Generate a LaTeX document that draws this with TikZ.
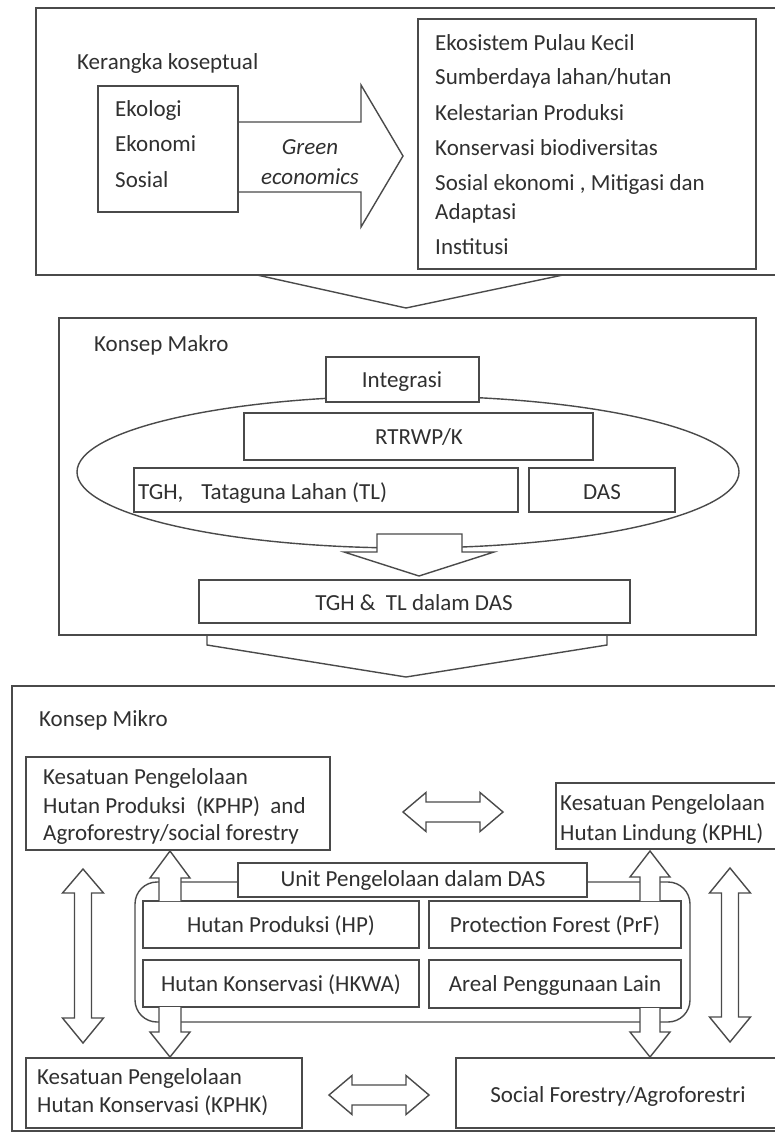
\documentclass[tikz,border=0pt]{standalone}
\usepackage{fontspec}
\setmainfont{Carlito}
\usetikzlibrary{shapes.geometric}
\definecolor{lnc}{HTML}{4A4A4A}
\definecolor{txc}{HTML}{303030}
\newcommand\fsz{\fontsize{23}{27}\selectfont}
\newcommand\mybox[6][]{\node[bx,minimum width={(#5-#3)*1pt},minimum height={(#6-#4)*1pt},#1] (#2) at ({(#3+#5)/2},{(#4+#6)/2}) {};}
\begin{document}
\begin{tikzpicture}[x=1pt,y=-1pt,
 bx/.style={draw=lnc,line width=1.4pt,fill=white,inner sep=0pt,outer sep=0pt},
 lnsty/.style={draw=lnc,line width=1.4pt,line join=miter},
 blk/.style={draw=lnc,line width=1.4pt,fill=white,line join=miter},
 tl/.style={font=\fsz,text=txc,inner sep=0pt,anchor=base west},
 tc/.style={font=\fsz,text=txc,inner sep=0pt,anchor=base}]
\useasboundingbox (0,0) rectangle (775,1137);
\clip (0,0) rectangle (775,1137);
\fill[white] (0,0) rectangle (775,1137);
% ---------------- top section
\mybox{outer1}{36}{8}{778}{275}
\node[tl] (kk) at (77,70) {Kerangka koseptual};
\draw[blk] (238,122) -- (361,122) -- (361,85) -- (403,156) -- (361,227) -- (361,192) -- (238,192);
\mybox{eko}{98}{86}{238}{212}
\node[tl] (t1) at (115,117) {Ekologi};
\node[tl] (t2) at (115,151) {Ekonomi};
\node[tl] (t3) at (115,187) {Sosial};
\node[tc,font=\fsz\itshape] (g1) at (310,154) {Green};
\node[tc,font=\fsz\itshape] (g2) at (310,184) {economics};
\mybox{rbox}{418}{19}{756}{269}
\node[tl] (r1) at (435,51) {Ekosistem Pulau Kecil};
\node[tl] (r2) at (435,85) {Sumberdaya lahan/hutan};
\node[tl] (r3) at (435,121) {Kelestarian Produksi};
\node[tl] (r4) at (435,155) {Konservasi biodiversitas};
\node[tl] (r5) at (435,190) {Sosial ekonomi , Mitigasi dan};
\node[tl] (r6) at (435,219) {Adaptasi};
\node[tl] (r7) at (435,254) {Institusi};
\draw[lnsty] (257,275) -- (406,308) -- (563,275);
% ---------------- middle section
\mybox{mid}{59}{318}{756}{635}
\node[tl] (km) at (94,351) {Konsep Makro};
\node[draw=lnc,line width=1.4pt,ellipse,minimum width=662pt,minimum height=152pt,inner sep=0pt] (ell) at (408,472) {};
\mybox{integ}{326}{357}{479}{402}
\node[tc] (integt) at (402,387) {Integrasi};
\mybox{rtr}{244}{413}{593}{460}
\node[tc] (rtrt) at (419,444) {RTRWP/K};
\mybox{tgh}{134}{468}{518}{512}
\node[tl] (tght) at (138,499) {TGH,\hspace{18pt}Tataguna Lahan (TL)};
\mybox{das}{529}{468}{675}{512}
\node[tc] (dast) at (602,499) {DAS};
\draw[blk] (377,534) -- (462,534) -- (462,552) -- (494,552) -- (419,576) -- (344,552) -- (377,552) -- cycle;
\mybox{tghtl}{199}{580}{630}{623}
\node[tc] (tghtlt) at (414,610) {TGH \& \ TL dalam DAS};
\draw[lnsty] (207,635) -- (207,645) -- (406,677) -- (607,645) -- (607,635);
% ---------------- bottom section
\mybox{outer3}{12}{686}{778}{1131}
\node[tl] (kmi) at (39,726) {Konsep Mikro};
\mybox{kphp}{26}{757}{330}{850}
\node[tl] (p1) at (43,784) {Kesatuan Pengelolaan};
\node[tl] (p2) at (43,813) {Hutan Produksi \ (KPHP) \ and};
\node[tl] (p3) at (43,840) {Agroforestry/social forestry};
\draw[blk] (403,812) -- (426,792.5) -- (426,802) -- (480,802) -- (480,792.5) -- (503,812) -- (480,831.5) -- (480,822) -- (426,822) -- (426,831.5) -- cycle;
\mybox{kphl}{556}{783}{778}{849}
\node[tl] (l1) at (560,810) {Kesatuan Pengelolaan};
\node[tl] (l2) at (560,840) {Hutan Lindung (KPHL)};
\mybox[rounded corners=22pt]{encl}{135}{882}{690}{1022}
\mybox{unit}{238}{863}{587}{897}
\node[tc] (unitt) at (413,886) {Unit Pengelolaan dalam DAS};
\mybox{hp}{143}{901}{419}{948}
\node[tc] (hpt) at (281,932) {Hutan Produksi (HP)};
\mybox{prf}{429}{901}{681}{948}
\node[tc] (prft) at (555,932) {Protection Forest (PrF)};
\mybox{hk}{143}{960}{419}{1007}
\node[tc] (hkt) at (281,991) {Hutan Konservasi (HKWA)};
\mybox{apl}{429}{960}{681}{1008}
\node[tc] (aplt) at (555,991) {Areal Penggunaan Lain};
% single block arrows
\draw[blk] (159,901) -- (159,878) -- (150,878) -- (170,851) -- (190,878) -- (181,878) -- (181,901);
\draw[blk] (640,901) -- (640,877) -- (630,877) -- (650,851) -- (670,877) -- (660,877) -- (660,901);
\draw[blk] (159,1007) -- (159,1032) -- (150,1032) -- (170,1057) -- (190,1032) -- (181,1032) -- (181,1007);
\draw[blk] (640,1008) -- (640,1032) -- (630,1032) -- (650,1057) -- (670,1032) -- (660,1032) -- (660,1008);
% vertical double arrows
\draw[blk] (83,869) -- (103.5,893) -- (91.5,893) -- (91.5,1018) -- (103.5,1018) -- (83,1043) -- (62.5,1018) -- (74.5,1018) -- (74.5,893) -- (62.5,893) -- cycle;
\draw[blk] (730,868) -- (750.5,893) -- (738.5,893) -- (738.5,1017) -- (750.5,1017) -- (730,1042) -- (709.5,1017) -- (721.5,1017) -- (721.5,893) -- (709.5,893) -- cycle;
\mybox{kphk}{26}{1058}{302}{1128}
\node[tl] (k1) at (37,1084) {Kesatuan Pengelolaan};
\node[tl] (k2) at (37,1112) {Hutan Konservasi (KPHK)};
\draw[blk] (329,1095) -- (352,1075.5) -- (352,1085) -- (406,1085) -- (406,1075.5) -- (429,1095) -- (406,1114.5) -- (406,1105) -- (352,1105) -- (352,1114.5) -- cycle;
\mybox{sf}{456}{1058}{778}{1128}
\node[tc] (sft) at (618,1102) {Social Forestry/Agroforestri};
\end{tikzpicture}
\end{document}
